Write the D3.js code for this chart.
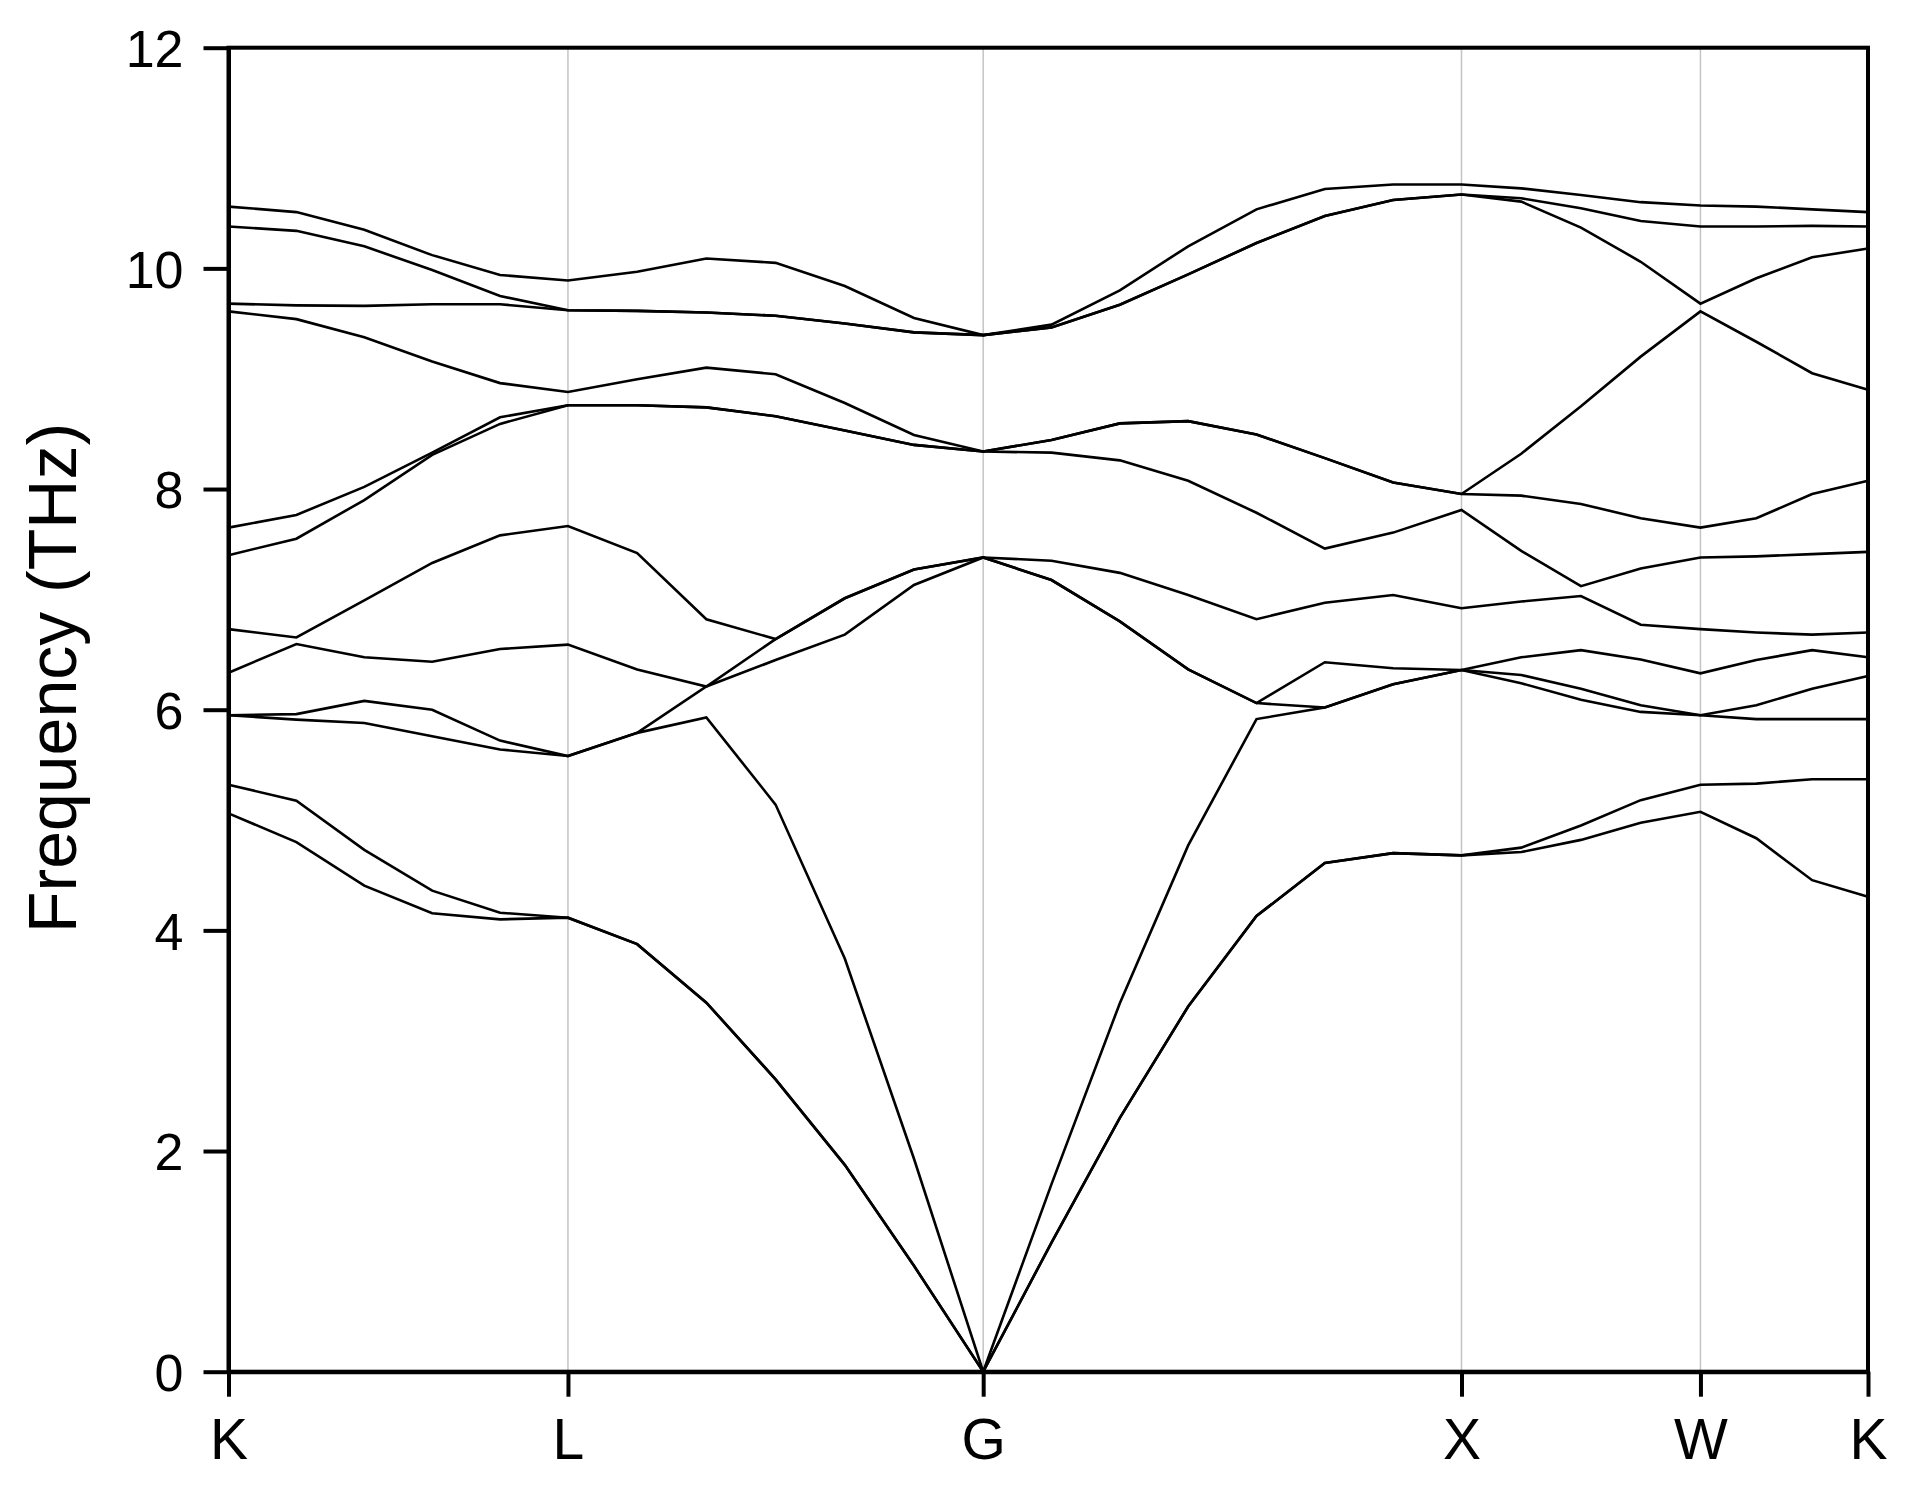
<!DOCTYPE html>
<html>
<head>
<meta charset="utf-8">
<script src="https://cdn.jsdelivr.net/npm/d3@7"></script>
<style>
body { margin: 0; background: #fff; }
text { font-family: "Liberation Sans", Arial, sans-serif; fill: #000; }
</style>
</head>
<body>
<div id="chart"></div>
<script>
// high symmetry points and the number of steps between them
var kLabels = ["K", "L", "G", "X", "W", "K"];
var kTicks = [0, 0.7097, 1.5778, 2.5778, 3.0774, 3.4277];
var kSteps = [5, 6, 7, 4, 3];
var yTicks = [0, 2, 4, 6, 8, 10, 12];

// phonon bands (THz), sorted, K-L-G-X-W-K
var band1 = [5.06, 4.80, 4.405, 4.155, 4.10, 4.115, 3.875, 3.345, 2.65, 1.875, 0.96, 0,
  1.17, 2.30, 3.31, 4.13, 4.61, 4.70, 4.68, 4.71, 4.82, 4.975, 5.075, 4.835, 4.455, 4.305];
var band2 = [5.32, 5.175, 4.73, 4.36, 4.16, 4.115, 3.875, 3.345, 2.65, 1.875, 0.96, 0,
  1.17, 2.30, 3.31, 4.13, 4.61, 4.70, 4.68, 4.75, 4.95, 5.18, 5.32, 5.33, 5.37, 5.37];
var band3 = [5.95, 5.91, 5.88, 5.76, 5.64, 5.58, 5.79, 5.93, 5.14, 3.745, 1.93, 0,
  1.70, 3.34, 4.77, 5.915, 6.02, 6.23, 6.36, 6.24, 6.09, 5.98, 5.95, 5.915, 5.915, 5.915];
var band4 = [5.95, 5.96, 6.08, 6.00, 5.72, 5.58, 5.79, 6.21, 6.45, 6.68, 7.13, 7.38,
  7.175, 6.80, 6.365, 6.06, 6.02, 6.23, 6.36, 6.315, 6.19, 6.04, 5.95, 6.04, 6.19, 6.305];
var band5 = [6.335, 6.595, 6.475, 6.435, 6.55, 6.59, 6.365, 6.21, 6.64, 7.01, 7.27, 7.38,
  7.175, 6.80, 6.365, 6.06, 6.43, 6.375, 6.36, 6.475, 6.54, 6.455, 6.33, 6.45, 6.54, 6.475];
var band6 = [6.73, 6.655, 6.99, 7.33, 7.58, 7.665, 7.42, 6.82, 6.64, 7.01, 7.27, 7.38,
  7.35, 7.24, 7.04, 6.82, 6.97, 7.04, 6.92, 6.98, 7.03, 6.77, 6.73, 6.70, 6.68, 6.70];
var band7 = [7.40, 7.55, 7.90, 8.31, 8.59, 8.76, 8.76, 8.74, 8.66, 8.53, 8.40, 8.34,
  8.33, 8.26, 8.075, 7.785, 7.46, 7.605, 7.81, 7.44, 7.12, 7.28, 7.38, 7.39, 7.41, 7.43];
var band8 = [7.65, 7.765, 8.02, 8.33, 8.65, 8.76, 8.76, 8.74, 8.66, 8.53, 8.40, 8.34,
  8.445, 8.595, 8.615, 8.495, 8.28, 8.06, 7.955, 7.94, 7.865, 7.735, 7.65, 7.735, 7.955, 8.075];
var band9 = [9.61, 9.54, 9.375, 9.155, 8.96, 8.88, 8.995, 9.10, 9.04, 8.78, 8.49, 8.34,
  8.445, 8.595, 8.615, 8.495, 8.28, 8.06, 7.955, 8.32, 8.75, 9.20, 9.61, 9.335, 9.05, 8.90];
var band10 = [9.68, 9.665, 9.66, 9.675, 9.675, 9.62, 9.615, 9.60, 9.57, 9.50, 9.42, 9.395,
  9.465, 9.67, 9.945, 10.23, 10.475, 10.62, 10.67, 10.605, 10.37, 10.06, 9.68, 9.91, 10.10, 10.18];
var band11 = [10.38, 10.34, 10.20, 9.985, 9.75, 9.62, 9.615, 9.60, 9.57, 9.50, 9.42, 9.395,
  9.465, 9.67, 9.945, 10.23, 10.475, 10.62, 10.67, 10.635, 10.545, 10.43, 10.38, 10.38, 10.385, 10.38];
var band12 = [10.56, 10.51, 10.35, 10.12, 9.94, 9.89, 9.97, 10.09, 10.05, 9.84, 9.55, 9.395,
  9.49, 9.80, 10.20, 10.535, 10.72, 10.76, 10.76, 10.725, 10.665, 10.60, 10.57, 10.56, 10.535, 10.51];

var bands = [band1, band2, band3, band4, band5, band6, band7, band8, band9, band10, band11, band12];

// k distance of every sample along the path
var kPath = [kTicks[0]];
kSteps.forEach(function(n, s) {
  for (var i = 1; i <= n; i++) {
    kPath.push(kTicks[s] + (kTicks[s + 1] - kTicks[s]) * i / n);
  }
});

var svgWidth = 1905;
var svgHeight = 1492;

var margin = {
  top: 47.7,
  right: 37,
  bottom: 120.3,
  left: 228.5
};

var width = svgWidth - margin.left - margin.right;
var height = svgHeight - margin.top - margin.bottom;

var svg = d3.select("#chart")
  .append("svg")
  .attr("width", svgWidth)
  .attr("height", svgHeight)
  .style("background", "#fff");

var chartGroup = svg.append("g")
  .attr("transform", `translate(${margin.left}, ${margin.top})`);

var xScale = d3.scaleLinear()
  .domain([kTicks[0], kTicks[kTicks.length - 1]])
  .range([0, width]);

var yScale = d3.scaleLinear()
  .domain([0, 12])
  .range([height, 0]);

// grey lines at the inner symmetry points
chartGroup.selectAll("line.grid")
  .data(kTicks.slice(1, -1))
  .enter()
  .append("line")
  .attr("class", "grid")
  .attr("x1", d => xScale(d))
  .attr("x2", d => xScale(d))
  .attr("y1", 0)
  .attr("y2", height)
  .attr("stroke", "#c4c4c4")
  .attr("stroke-width", 1.5);

var bandLine = d3.line()
  .x((d, i) => xScale(kPath[i]))
  .y(d => yScale(d));

chartGroup.selectAll("path.band")
  .data(bands)
  .enter()
  .append("path")
  .attr("class", "band")
  .attr("d", bandLine)
  .attr("fill", "none")
  .attr("stroke", "#000")
  .attr("stroke-width", 2.6);

// axes
var leftAxis = d3.axisLeft(yScale)
  .tickValues(yTicks)
  .tickSize(25)
  .tickSizeOuter(0)
  .tickPadding(20);

var bottomAxis = d3.axisBottom(xScale)
  .tickValues(kTicks)
  .tickFormat((d, i) => kLabels[i])
  .tickSize(25)
  .tickSizeOuter(0)
  .tickPadding(22);

var yAxisG = chartGroup.append("g").call(leftAxis);
var xAxisG = chartGroup.append("g")
  .attr("transform", `translate(0, ${height})`)
  .call(bottomAxis);

[yAxisG, xAxisG].forEach(function(g) {
  g.selectAll("path, line").attr("stroke", "#000").attr("stroke-width", 4);
  g.selectAll("text").attr("fill", "#000").style("font-family", "'Liberation Sans', Arial, sans-serif");
});
yAxisG.selectAll("text").style("font-size", "52px").attr("dy", "0.36em");
xAxisG.selectAll("text").style("font-size", "57px");

// frame
chartGroup.append("rect")
  .attr("x", 0)
  .attr("y", 0)
  .attr("width", width)
  .attr("height", height)
  .attr("fill", "none")
  .attr("stroke", "#000")
  .attr("stroke-width", 4);

svg.append("text")
  .attr("transform", "translate(76, 678) rotate(-90)")
  .attr("text-anchor", "middle")
  .style("font-size", "68px")
  .text("Frequency (THz)");
</script>
</body>
</html>
